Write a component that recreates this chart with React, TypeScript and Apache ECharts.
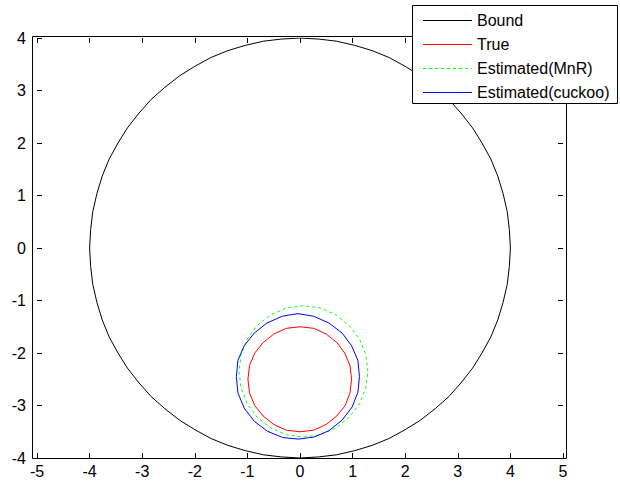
import React, { useEffect, useRef } from "react";
import * as echarts from "echarts";

const legendNames = ["Bound", "True", "Estimated(MnR)", "Estimated(cuckoo)"];
const xTicks = [-5, -4, -3, -2, -1, 0, 1, 2, 3, 4, 5];
const yTicks = [-4, -3, -2, -1, 0, 1, 2, 3, 4];

const boundX = [4, 3.98, 3.94, 3.86, 3.76, 3.63, 3.46, 3.28, 3.06, 2.83, 2.57, 2.29, 2.0, 1.69, 1.37, 1.04, 0.69, 0.35, 0,
  -0.35, -0.69, -1.04, -1.37, -1.69, -2.0, -2.29, -2.57, -2.83, -3.06, -3.28, -3.46, -3.63, -3.76, -3.86, -3.94, -3.98, -4,
  -3.98, -3.94, -3.86, -3.76, -3.63, -3.46, -3.28, -3.06, -2.83, -2.57, -2.29, -2.0, -1.69, -1.37, -1.04, -0.69, -0.35, 0,
  0.35, 0.69, 1.04, 1.37, 1.69, 2.0, 2.29, 2.57, 2.83, 3.06, 3.28, 3.46, 3.63, 3.76, 3.86, 3.94, 3.98, 4];
const boundY = [0, 0.35, 0.69, 1.04, 1.37, 1.69, 2.0, 2.29, 2.57, 2.83, 3.06, 3.28, 3.46, 3.63, 3.76, 3.86, 3.94, 3.98, 4,
  3.98, 3.94, 3.86, 3.76, 3.63, 3.46, 3.28, 3.06, 2.83, 2.57, 2.29, 2.0, 1.69, 1.37, 1.04, 0.69, 0.35, 0,
  -0.35, -0.69, -1.04, -1.37, -1.69, -2.0, -2.29, -2.57, -2.83, -3.06, -3.28, -3.46, -3.63, -3.76, -3.86, -3.94, -3.98, -4,
  -3.98, -3.94, -3.86, -3.76, -3.63, -3.46, -3.28, -3.06, -2.83, -2.57, -2.29, -2.0, -1.69, -1.37, -1.04, -0.69, -0.35, 0];

const trueX = [0.98, 0.95, 0.85, 0.70, 0.50, 0.26, 0, -0.26, -0.50, -0.70, -0.86, -0.96, -0.99, -0.96, -0.86, -0.70, -0.50, -0.26, 0, 0.26, 0.50, 0.70, 0.86, 0.95, 0.98];
const trueY = [-2.5, -2.24, -2.0, -1.80, -1.64, -1.53, -1.5, -1.53, -1.64, -1.80, -2.0, -2.24, -2.5, -2.76, -3.0, -3.2, -3.36, -3.47, -3.5, -3.47, -3.36, -3.2, -3.0, -2.76, -2.5];

const mnrX = [1.29, 1.25, 1.13, 0.93, 0.68, 0.38, 0.06, -0.25, -0.55, -0.81, -1.0, -1.12, -1.16, -1.12, -1.0, -0.81, -0.55, -0.25, 0.06, 0.38, 0.68, 0.93, 1.13, 1.25, 1.29];
const mnrY = [-2.35, -2.03, -1.73, -1.47, -1.27, -1.14, -1.10, -1.14, -1.27, -1.47, -1.73, -2.03, -2.35, -2.67, -2.97, -3.23, -3.43, -3.56, -3.60, -3.56, -3.43, -3.23, -2.97, -2.67, -2.35];

const cuckooX = [1.13, 1.10, 0.98, 0.80, 0.55, 0.26, -0.04, -0.34, -0.63, -0.87, -1.06, -1.18, -1.21, -1.18, -1.06, -0.87, -0.62, -0.33, -0.03, 0.27, 0.55, 0.80, 0.99, 1.10, 1.13];
const cuckooY = [-2.45, -2.14, -1.86, -1.62, -1.43, -1.30, -1.25, -1.30, -1.43, -1.62, -1.86, -2.14, -2.45, -2.76, -3.05, -3.30, -3.49, -3.61, -3.64, -3.60, -3.48, -3.28, -3.03, -2.75, -2.45];

const zip = (xs: number[], ys: number[]) => xs.map((x, i) => [x, ys[i]]);

const colors = ["#000000", "#ff0000", "#00ff00", "#0000ff"];
const lineTypes = ["solid", "solid", "dashed", "solid"];

export default function App() {
  const ref = useRef<HTMLDivElement>(null);
  useEffect(() => {
    if (!ref.current) return;
    const chart = echarts.init(ref.current, null, { renderer: "svg" });
    const font = "Liberation Sans, Arial, sans-serif";
    const datasets = [zip(boundX, boundY), zip(trueX, trueY), zip(mnrX, mnrY), zip(cuckooX, cuckooY)];
    const legendX = 412, legendY = 5;
    const graphics: any[] = [
      {
        type: "rect",
        shape: { x: 32.5, y: 36.5, width: 534, height: 422 },
        style: { fill: "none", stroke: "#000", lineWidth: 1 },
        z: 50,
        silent: true,
      },
      {
        type: "rect",
        shape: { x: legendX + 0.5, y: legendY + 0.5, width: 205, height: 98 },
        style: { fill: "#fff", stroke: "#000", lineWidth: 1 },
        z: 100,
      },
    ];
    legendNames.forEach((name, i) => {
      const cy = legendY + 15.5 + i * 24;
      graphics.push({
        type: "line",
        shape: { x1: legendX + 11, y1: cy, x2: legendX + 60, y2: cy },
        style: {
          stroke: colors[i],
          lineWidth: 1,
          lineDash: lineTypes[i] === "dashed" ? [3, 3] : null,
        },
        z: 101,
      });
      graphics.push({
        type: "text",
        x: legendX + 65,
        y: cy,
        style: {
          text: name,
          fill: "#000",
          font: `16px ${font}`,
          verticalAlign: "middle",
        },
        z: 101,
      });
    });
    const tickStyle = { show: true, inside: true, length: 5, lineStyle: { color: "#000" } };
    chart.setOption({
      animation: false,
      backgroundColor: "#fff",
      grid: { left: 37, right: 57, top: 38, bottom: 24, containLabel: false },
      xAxis: [
        {
          type: "value",
          min: -5,
          max: 5,
          interval: 1,
          position: "bottom",
          axisLine: { show: false, onZero: false },
          axisTick: tickStyle,
          axisLabel: { color: "#000", fontSize: 16, fontFamily: font, margin: 5, formatter: (v: number) => String(v) },
          splitLine: { show: false },
        },
        {
          type: "value",
          min: -5,
          max: 5,
          interval: 1,
          position: "top",
          axisLine: { show: false, onZero: false },
          axisTick: tickStyle,
          axisLabel: { show: false },
          splitLine: { show: false },
        },
      ],
      yAxis: [
        {
          type: "value",
          min: -4,
          max: 4,
          interval: 1,
          position: "left",
          axisLine: { show: false, onZero: false },
          axisTick: tickStyle,
          axisLabel: { color: "#000", fontSize: 16, fontFamily: font, margin: 11, formatter: (v: number) => String(v) },
          splitLine: { show: false },
        },
        {
          type: "value",
          min: -4,
          max: 4,
          interval: 1,
          position: "right",
          axisLine: { show: false, onZero: false },
          axisTick: tickStyle,
          axisLabel: { show: false },
          splitLine: { show: false },
        },
      ],
      series: legendNames.map((name, i) => ({
        name,
        type: "line",
        data: datasets[i],
        showSymbol: false,
        symbol: "none",
        smooth: false,
        lineStyle: { color: colors[i], width: 1, type: lineTypes[i] === "dashed" ? [3, 3] : "solid" },
        z: 2 + i,
      })),
      graphic: graphics,
    });
    return () => chart.dispose();
  }, []);
  return <div ref={ref} style={{ width: 620, height: 482, position: "absolute", left: 0, top: 0 }} />;
}
